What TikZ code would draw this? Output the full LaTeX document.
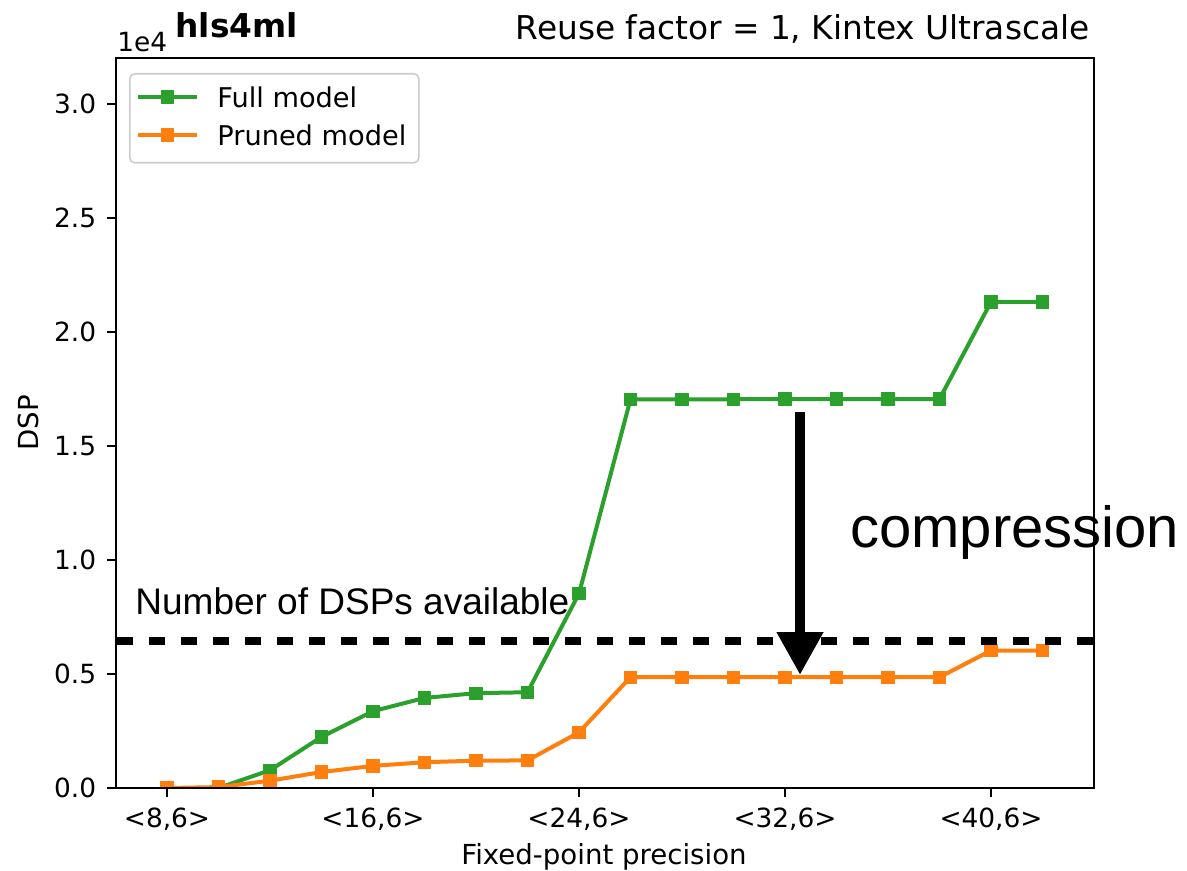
\documentclass[tikz,border=0pt]{standalone}
\usepackage{fontspec}
\setmainfont{DejaVu Sans}
\newfontfamily\annfont{Liberation Sans}
\usepackage{tikz}
\usetikzlibrary{arrows.meta,plotmarks}
\definecolor{fullgreen}{HTML}{2CA02C}
\definecolor{prunedorange}{HTML}{FF7F0E}
\definecolor{legendedge}{HTML}{CCCCCC}

\begin{document}
\begin{tikzpicture}[x=0.5pt, y=-0.5pt,
                   spine/.style={line width=1pt},
                   tickmark/.style={line width=1pt},
                   ticklbl/.style={font=\fontsize{13.2}{15}\selectfont, inner sep=0pt},
                   axlbl/.style={font=\fontsize{13.8}{16}\selectfont, inner sep=0pt},
                   ttl/.style={font=\fontsize{16.4}{19}\selectfont, inner sep=0pt},
                   series/.style={draw=#1, line width=2pt, line join=round, mark=square*,
                                  mark size=3.1pt, mark options={fill=#1, draw=#1, line width=0.4pt}},
                   legbox/.style={draw=legendedge, fill=white, line width=0.8pt, rounded corners=2.5pt,
                                  minimum width=144.5pt, minimum height=44.5pt, anchor=north west},
                   leglbl/.style={font=\fontsize{13.6}{16}\selectfont, inner sep=0pt, anchor=west},
                   dsplimit/.style={line width=4pt, dash pattern=on 8pt off 8pt},
                   cmparrow/.style={line width=5.3pt, -{Triangle[width=22pt, length=21.5pt]}},
                   note/.style={inner sep=0pt, anchor=base west}]
    \useasboundingbox[fill=white] (0,0) rectangle (1187,871);
    \begin{scope}[shift={(-39,788)}, x=12.875pt, y=114pt]
        \begin{scope}
            \clip (6,0) rectangle (44,3.2);
            \draw[series=fullgreen] plot coordinates {(8,0) (10,0) (12,0.078) (14,0.224) (16,0.337)
                (18,0.395) (20,0.416) (22,0.42) (24,0.853) (26,1.705) (28,1.705) (30,1.705)
                (32,1.706) (34,1.706) (36,1.706) (38,1.706) (40,2.132) (42,2.132)};
            \draw[series=prunedorange] plot coordinates {(8,0) (10,0.004) (12,0.032) (14,0.07)
                (16,0.097) (18,0.113) (20,0.12) (22,0.121) (24,0.244) (26,0.486) (28,0.486)
                (30,0.486) (32,0.486) (34,0.486) (36,0.486) (38,0.486) (40,0.603) (42,0.603)};
        \end{scope}
        \foreach \b/\lbl in {8/{<8,6>}, 16/{<16,6>}, 24/{<24,6>}, 32/{<32,6>}, 40/{<40,6>}} {
            \draw[tickmark] (\b,0) -- ++(0,-4.4pt);
            \node[ticklbl, anchor=base] (xt\b) at ([yshift=-19.5pt]\b,0) {\lbl};
        }
        \foreach \v in {0.0,0.5,1.0,1.5,2.0,2.5,3.0} {
            \draw[tickmark] (6,\v) -- ++(-4.4pt,0);
            \node[ticklbl, anchor=east] (yt\v) at ([xshift=-9.5pt]6,\v) {\v};
        }
        \draw[spine] (6,0) rectangle (44,3.2);
    \end{scope}
    \coordinate (limL) at (117,641);
    \coordinate (limR) at (1093,641);
    \draw[dsplimit] (limL) -- (limR);
    \coordinate (cmpTop) at (800,412);
    \coordinate (cmpTip) at (800,675);
    \draw[cmparrow] (cmpTop) -- (cmpTip);
    \node[note, font=\annfont\fontsize{29}{34}\selectfont] (cmplbl) at (850,547) {compression};
    \node[note, font=\annfont\fontsize{18.5}{22}\selectfont] (limlbl) at (135,614) {Number of DSPs available};
    \node[legbox] (legend) at (129,73) {};
    \draw[series=fullgreen, mark indices={2}] plot coordinates {(138,97) (167.5,97) (197,97)};
    \draw[series=prunedorange, mark indices={2}] plot coordinates {(138,135) (167.5,135) (197,135)};
    \node[leglbl] (legfull) at (217,97) {Full model};
    \node[leglbl] (legpruned) at (217,135) {Pruned model};
    \node[note, font=\fontsize{13.2}{15}\selectfont] (scale) at (117,52) {1e4};
    \node[note, font=\bfseries\fontsize{16.4}{19}\selectfont] (ttlleft) at (175,38) {hls4ml};
    \node[ttl, anchor=base east] (ttlright) at (1090,40) {Reuse factor = 1, Kintex Ultrascale};
    \node[axlbl, rotate=90] (ylbl) at (28,423) {DSP};
    \node[axlbl, anchor=base] (xlbl) at (604,864) {Fixed-point precision};
\end{tikzpicture}
\end{document}
